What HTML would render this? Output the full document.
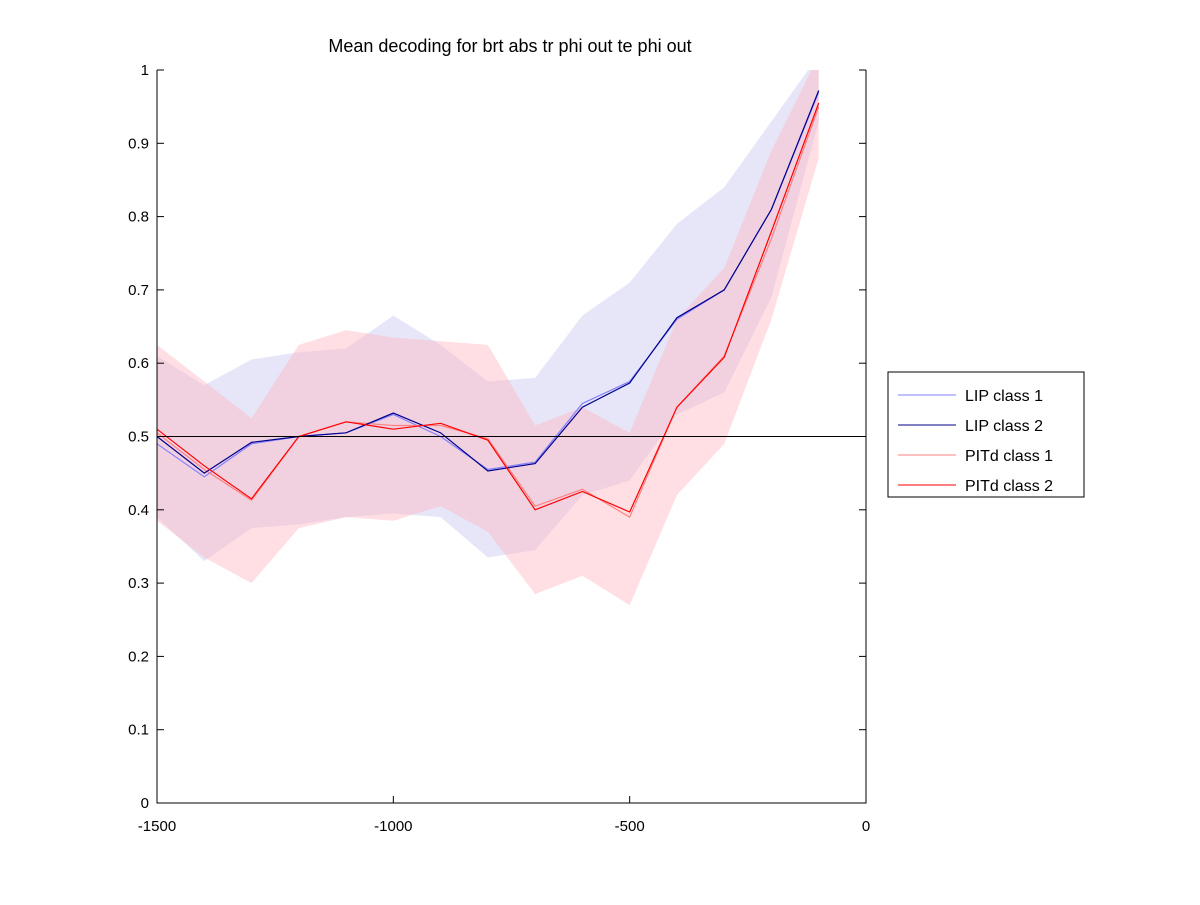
<!DOCTYPE html>
<html><head><meta charset="utf-8"><style>
body{margin:0;background:#fff;}
svg text{font-family:"Liberation Sans",sans-serif;}
</style></head><body>
<svg id="chart" width="1200" height="900" viewBox="0 0 1200 900">
<g id="bands"></g>
<g id="lines"></g>
<g id="axes"></g>
<text x="510" y="52" font-size="18" text-anchor="middle">Mean decoding for brt abs tr phi out te phi out</text>
<g>
<rect x="888" y="372" width="196" height="125" fill="#fff" stroke="#000" stroke-width="1"/>
<g><line x1="898" y1="395" x2="956" y2="395" stroke="#8080ff"/><text x="965" y="401" font-size="16">LIP class 1</text></g>
<g><line x1="898" y1="425" x2="956" y2="425" stroke="#00008b"/><text x="965" y="431" font-size="16">LIP class 2</text></g>
<g><line x1="898" y1="455" x2="956" y2="455" stroke="#ff8080"/><text x="965" y="461" font-size="16">PITd class 1</text></g>
<g><line x1="898" y1="485" x2="956" y2="485" stroke="#ff0000"/><text x="965" y="491" font-size="16">PITd class 2</text></g>
</g>
</svg>
<script>
const xs=[-1500,-1400,-1300,-1200,-1100,-1000,-900,-800,-700,-600,-500,-400,-300,-200,-100];
const lip1=[0.49,0.445,0.49,0.50,0.505,0.53,0.50,0.455,0.465,0.545,0.575,0.66,0.70,0.81,0.97];
const lip2=[0.50,0.45,0.492,0.50,0.505,0.532,0.505,0.453,0.463,0.54,0.573,0.662,0.70,0.81,0.972];
const pit1=[0.505,0.455,0.413,0.50,0.52,0.515,0.515,0.497,0.405,0.428,0.39,0.54,0.61,0.77,0.95];
const pit2=[0.51,0.46,0.415,0.50,0.52,0.51,0.518,0.495,0.40,0.425,0.397,0.54,0.608,0.78,0.955];
const lipUp=[0.61,0.57,0.605,0.615,0.62,0.665,0.625,0.575,0.58,0.665,0.71,0.79,0.84,0.93,1.02];
const lipLo=[0.39,0.33,0.375,0.38,0.39,0.395,0.39,0.335,0.345,0.42,0.44,0.53,0.56,0.69,0.93];
const pitUp=[0.625,0.575,0.525,0.625,0.645,0.635,0.63,0.625,0.515,0.54,0.505,0.66,0.73,0.89,1.02];
const pitLo=[0.385,0.335,0.30,0.375,0.39,0.385,0.405,0.37,0.285,0.31,0.27,0.42,0.49,0.66,0.88];
const xTicks=[-1500,-1000,-500,0];
const yTicks=[0,0.1,0.2,0.3,0.4,0.5,0.6,0.7,0.8,0.9,1];
const X0=157,X1=866,Y0=803,Y1=70;
const sx=v=>X0+(v+1500)/1500*(X1-X0);
const sy=v=>Y0-v*(Y0-Y1);
const NS="http://www.w3.org/2000/svg";
function mk(t,a,p){const e=document.createElementNS(NS,t);for(const k in a)e.setAttribute(k,a[k]);p.appendChild(e);return e;}
const bands=document.getElementById('bands'),lines=document.getElementById('lines'),axes=document.getElementById('axes');
const cp=mk('clipPath',{id:'clip'},bands);
mk('rect',{x:X0,y:Y1,width:X1-X0,height:Y0-Y1},cp);
function band(up,lo,col,name){
 let d='M'+xs.map((x,i)=>sx(x)+','+sy(up[i])).join('L');
 for(let i=xs.length-1;i>=0;i--)d+='L'+sx(xs[i])+','+sy(lo[i]);
 const p=mk('path',{d:d+'Z',fill:col,'fill-opacity':0.45,'clip-path':'url(#clip)'},bands);
 
 
}
band(lipUp,lipLo,'#c8c8f0','lip-band');
band(pitUp,pitLo,'#ffb8c4','pitd-band');
function line(v,col,name){
 const p=mk('polyline',{points:xs.map((x,i)=>sx(x)+','+sy(v[i])).join(' '),fill:'none',stroke:col,'stroke-width':1.2,'clip-path':'url(#clip)'},lines);
 
 
}
line(lip1,'#8080ff','lip-class-1-line');
line(pit1,'#ff8080','pitd-class-1-line');
line(lip2,'#00008b','lip-class-2-line');
line(pit2,'#ff0000','pitd-class-2-line');
const ch=mk('line',{x1:X0,x2:X1,y1:sy(0.5),y2:sy(0.5),stroke:'#000'},axes);


mk('path',{d:`M${X0},${Y1}V${Y0}H${X1}V${Y1}`,fill:'none',stroke:'#000'},axes);
xTicks.forEach(t=>{
 mk('line',{x1:sx(t),x2:sx(t),y1:Y0,y2:Y0-7,stroke:'#000'},axes);
 const e=mk('text',{x:sx(t),y:Y0+28,'font-size':15,'text-anchor':'middle'},axes);e.textContent=t;
 
 
});
yTicks.forEach(t=>{
 mk('line',{x1:X0,x2:X0+7,y1:sy(t),y2:sy(t),stroke:'#000'},axes);
 mk('line',{x1:X1,x2:X1-7,y1:sy(t),y2:sy(t),stroke:'#000'},axes);
 const e=mk('text',{x:X0-8,y:sy(t)+5,'font-size':15,'text-anchor':'end'},axes);e.textContent=t;
 
 
});
</script>
</body></html>
